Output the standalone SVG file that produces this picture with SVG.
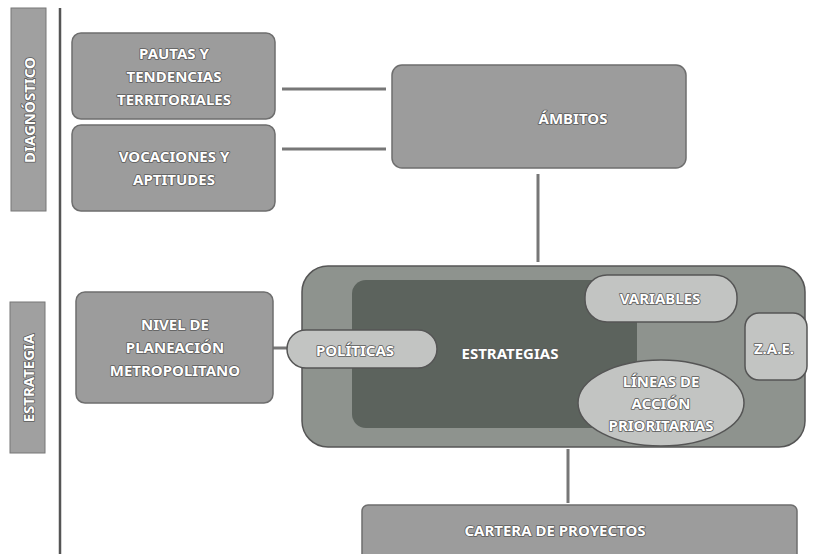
<svg xmlns="http://www.w3.org/2000/svg" width="839" height="554" viewBox="0 0 839 554">
<style>
.box{fill:#9c9c9c;stroke:#6e6e6e;stroke-width:1.5}
.pill{fill:#c2c4c2;stroke:#555;stroke-width:1.5}
.t{font-family:"Noto Sans","Liberation Sans",sans-serif;font-weight:700;font-size:15px;fill:#fff;stroke:#5a5a5a;stroke-width:1.6;paint-order:stroke;stroke-linejoin:round;text-anchor:middle;dominant-baseline:central}
.bar{fill:#a0a0a0;stroke:#777;stroke-width:1}
.con{stroke:#777;stroke-width:3;fill:none}
</style>
<rect width="839" height="554" fill="#fff"/>
<g id="bar-diagnostico">
<rect class="bar" x="11" y="8" width="35" height="203"/>
<text class="t" transform="translate(29 110) rotate(-90)">DIAGNÓSTICO</text>
</g>
<g id="bar-estrategia">
<rect class="bar" x="10" y="302" width="35" height="151"/>
<text class="t" transform="translate(28 378) rotate(-90)">ESTRATEGIA</text>
</g>
<g id="divider"><line x1="60" y1="8" x2="60" y2="554" stroke="#555" stroke-width="2.5"/></g>
<g id="connectors">
<line class="con" x1="282" y1="89" x2="386" y2="89"/>
<line class="con" x1="282" y1="149" x2="386" y2="149"/>
<line class="con" x1="538" y1="174" x2="538" y2="262"/>
<line class="con" x1="273" y1="348" x2="288" y2="348"/>
<line class="con" x1="568" y1="449" x2="568" y2="503"/>
</g>
<g id="pautas">
<rect class="box" x="72" y="33" width="203" height="86" rx="9"/>
<text class="t" x="174" y="53">PAUTAS Y</text>
<text class="t" x="174" y="76">TENDENCIAS</text>
<text class="t" x="174" y="99">TERRITORIALES</text>
</g>
<g id="vocaciones">
<rect class="box" x="72" y="125" width="203" height="86" rx="9"/>
<text class="t" x="174" y="156">VOCACIONES Y</text>
<text class="t" x="174" y="179">APTITUDES</text>
</g>
<g id="ambitos">
<rect class="box" x="392" y="65" width="294" height="103" rx="10"/>
<text class="t" x="573" y="118">ÁMBITOS</text>
</g>
<g id="nivel">
<rect class="box" x="76" y="292" width="197" height="111" rx="9"/>
<text class="t" x="175" y="324">NIVEL DE</text>
<text class="t" x="175" y="347">PLANEACIÓN</text>
<text class="t" x="175" y="370">METROPOLITANO</text>
</g>
<g id="estrategias-grupo">
<rect x="302" y="266" width="503" height="181" rx="26" fill="#8e938e" stroke="#555" stroke-width="1.5"/>
<rect x="352" y="280" width="285" height="148" rx="14" fill="#5c635d"/>
<text class="t" x="510" y="353">ESTRATEGIAS</text>
</g>
<g id="politicas">
<rect class="pill" x="287" y="330" width="150" height="38" rx="19"/>
<text class="t" x="355" y="350">POLÍTICAS</text>
</g>
<g id="variables">
<rect class="pill" x="585" y="275" width="152" height="47" rx="22"/>
<text class="t" x="660" y="298">VARIABLES</text>
</g>
<g id="zae">
<rect class="pill" x="745" y="313" width="62" height="67" rx="14"/>
<text class="t" x="774" y="348">Z.A.E.</text>
</g>
<g id="lineas">
<ellipse class="pill" cx="661" cy="403" rx="83" ry="43"/>
<text class="t" x="661" y="381">LÍNEAS DE</text>
<text class="t" x="661" y="403">ACCIÓN</text>
<text class="t" x="661" y="425">PRIORITARIAS</text>
</g>
<g id="cartera">
<rect class="box" x="362" y="505" width="435" height="55" rx="6"/>
<text class="t" x="555" y="530">CARTERA DE PROYECTOS</text>
</g>
</svg>
